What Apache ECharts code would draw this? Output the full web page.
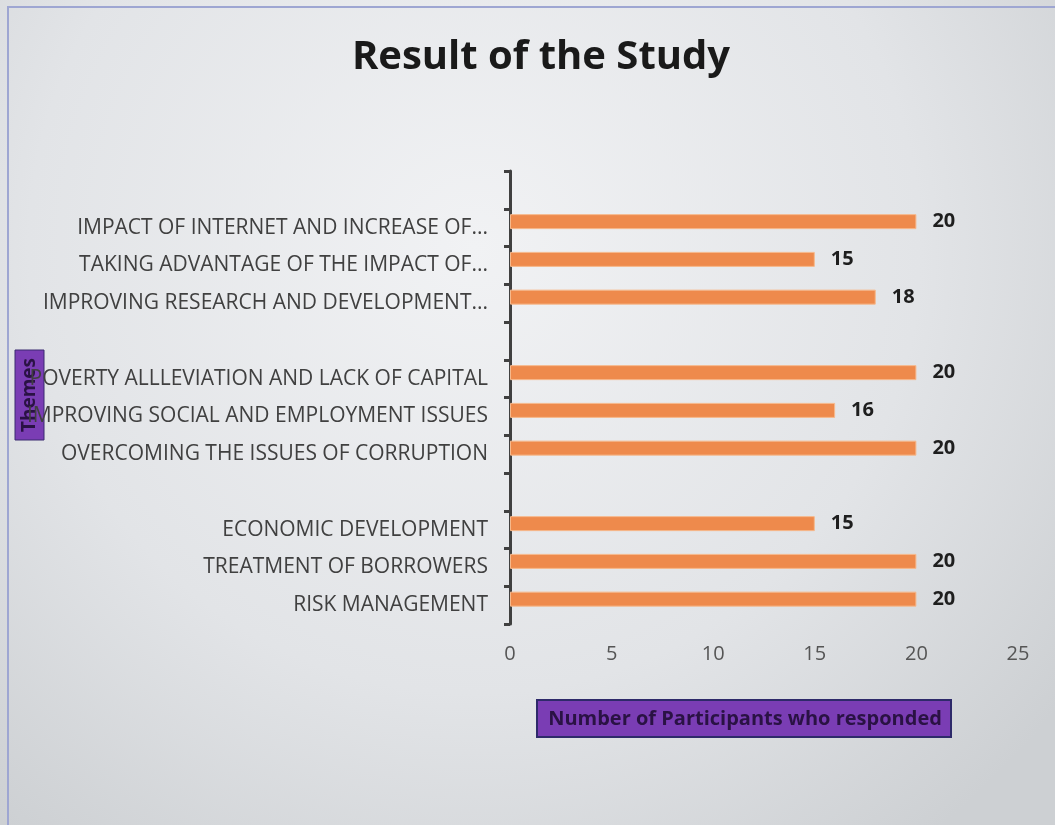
<!DOCTYPE html>
<html><head><meta charset="utf-8">
<script src="https://cdn.jsdelivr.net/npm/echarts@6/dist/echarts.min.js"></script>
<style>html,body{margin:0;padding:0;}#c{width:1055px;height:825px;}</style>
</head><body><div id="c"></div>
<script>
// categories bottom-to-top; blank entries are the gaps between theme groups
const categories = [
  'RISK MANAGEMENT',
  'TREATMENT OF BORROWERS',
  'ECONOMIC DEVELOPMENT',
  ' ',
  'OVERCOMING THE ISSUES OF CORRUPTION',
  'IMPROVING SOCIAL AND EMPLOYMENT ISSUES',
  'POVERTY ALLLEVIATION AND LACK OF CAPITAL',
  '  ',
  'IMPROVING RESEARCH AND DEVELOPMENT...',
  'TAKING ADVANTAGE OF THE IMPACT OF...',
  'IMPACT OF INTERNET AND INCREASE OF...',
  '   '
];
const participants = [20, 20, 15, '-', 20, 16, 20, '-', 18, 15, 20, '-'];
const emptySeries = categories.map(() => '-');
const xTicks = [0, 5, 10, 15, 20, 25];

const chart = echarts.init(document.getElementById('c'));
chart.setOption({
  animation: false,
  title: {
    text: 'Result of the Study', left: 536, top: 33, textAlign: 'center',
    textStyle: { fontFamily: 'Open Sans', fontWeight: 'bold', fontSize: 40, color: '#1a1a1a' }
  },
  graphic: [
    { type: 'rect', z: -10, silent: true, shape: { x: 0, y: 0, width: 1055, height: 825 },
      style: { fill: { type: 'radial', x: 0.45, y: 0.3, r: 0.9,
        colorStops: [{ offset: 0, color: '#f1f2f4' }, { offset: 0.6, color: '#e2e4e7' }, { offset: 1, color: '#cdd0d3' }] } } },
    { type: 'rect', z: -9, silent: true, shape: { x: 8, y: 7, width: 1060, height: 830 },
      style: { fill: 'none', stroke: '#9ea6d2', lineWidth: 2 } },
    { type: 'group', z: 100, children: [
      { type: 'rect', shape: { x: 15, y: 350, width: 29, height: 90 },
        style: { fill: '#7a3db4', stroke: '#3b2a70', lineWidth: 1 } },
      { type: 'text', x: 30, y: 395, rotation: Math.PI / 2,
        style: { text: 'Themes', fontFamily: 'Open Sans', fontWeight: 'bold', fontSize: 19, fill: '#2a1244',
          align: 'center', verticalAlign: 'middle' } }
    ] },
    { type: 'group', z: 100, children: [
      { type: 'rect', shape: { x: 537, y: 700, width: 414, height: 37 },
        style: { fill: '#7a3db4', stroke: '#2e2a6a', lineWidth: 2 } },
      { type: 'text', x: 745, y: 719,
        style: { text: 'Number of Participants who responded', fontFamily: 'Open Sans', fontWeight: 'bold', fontSize: 20, fill: '#2a1244',
          align: 'center', verticalAlign: 'middle' } }
    ] }
  ],
  grid: { left: 510, right: 37, top: 171, bottom: 201, containLabel: false },
  xAxis: {
    type: 'value', min: 0, max: 25, interval: 5,
    axisLine: { show: false }, axisTick: { show: false }, splitLine: { show: false },
    axisLabel: { margin: 20, fontFamily: 'Open Sans', fontSize: 20, color: '#555',
      formatter: v => (xTicks.indexOf(v) >= 0 ? String(v) : '') }
  },
  yAxis: {
    type: 'category', data: categories,
    axisLine: { show: true, lineStyle: { color: '#404040', width: 3 } },
    axisTick: { show: true, length: 6, lineStyle: { color: '#404040', width: 3 } },
    axisLabel: { margin: 22, fontFamily: 'Open Sans', fontSize: 21, color: '#404040' }
  },
  series: [
    { type: 'bar', name: 'Participants', data: participants, barWidth: 15, barGap: '-20%',
      itemStyle: { color: '#ee8a4c', borderColor: '#f6b98c', borderWidth: 1 },
      label: { show: true, position: 'right', distance: 16, fontFamily: 'Open Sans', fontWeight: 'bold',
        fontSize: 20, color: '#1e1e1e' } },
    { type: 'bar', name: 'pad', data: emptySeries, barWidth: 15, barGap: '-20%', silent: true }
  ]
});
</script></body></html>
